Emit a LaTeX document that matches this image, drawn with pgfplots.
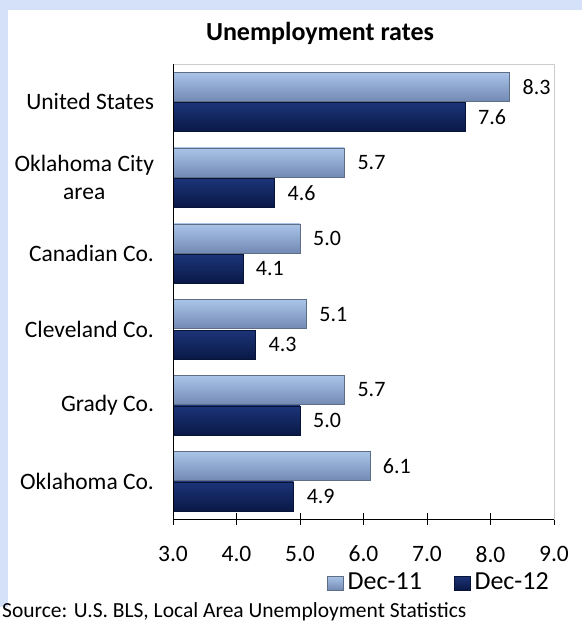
\documentclass[border=0pt]{standalone}
\usepackage{fontspec}
\setmainfont{Carlito}
\usepackage{pgfplots}
\pgfplotsset{compat=1.18}
\definecolor{bgblue}{RGB}{213,225,249}
\definecolor{lightTop}{RGB}{170,196,232}
\definecolor{lightMid}{RGB}{222,240,253}
\definecolor{lightBot}{RGB}{115,138,180}
\definecolor{lightEdge}{RGB}{95,110,135}
\definecolor{darkTop}{RGB}{28,52,120}
\definecolor{darkMid}{RGB}{38,70,152}
\definecolor{darkBot}{RGB}{9,24,70}
\definecolor{darkEdge}{RGB}{8,20,55}
\definecolor{framegray}{RGB}{205,205,205}
\pgfplotsset{
  lightbar/.style={draw=lightEdge, line width=0.6pt, top color=lightTop, middle color=lightMid, bottom color=lightBot},
  darkbar/.style={draw=darkEdge, line width=0.6pt, top color=darkTop, middle color=darkMid, bottom color=darkBot},
}
\begin{document}
\fontsize{23.5}{28}\selectfont
\begin{tikzpicture}[x=1pt,y=1pt]
\fill[white] (0,0) rectangle (582,629);
\fill[bgblue] (0,22) rectangle (582,629);
\fill[white] (8,22) rectangle (582,619);
\node[anchor=base, font=\fontsize{26}{30}\selectfont\bfseries, inner sep=0] at (320,588) {Unemployment rates};
\node[anchor=base west, inner sep=0] at (2,11) {\fontsize{21.5}{25}\selectfont Source: U.S. BLS, Local Area Unemployment Statistics};
\begin{axis}[
  at={(173pt,110pt)}, anchor=south west,
  scale only axis, width=381pt, height=455pt,
  xbar, bar width=29pt,
  xmin=3, xmax=9, xtick={3,4,5,6,7,8,9},
  ymin=-0.5, ymax=5.5,
  ytick={0,1,2,3,4,5},
  yticklabels={Oklahoma Co.,Grady Co.,Cleveland Co.,Canadian Co.,{Oklahoma City\\area},United States},
  yticklabel style={align=center, xshift=1pt},
  ytick style={draw=none},
  xtick pos=bottom,
  xtick align=center, major tick length=12pt,
  xtick style={black, line width=0.8pt},
  xticklabel style={yshift=-13pt},
  axis line style={framegray, line width=0.8pt},
  /pgf/number format/.cd, fixed, fixed zerofill, precision=1, assume math mode=true,
  /pgfplots/.cd,
  nodes near coords,
  nodes near coords align={horizontal},
  every node near coord/.append style={black, xshift=5pt, font=\fontsize{22}{26}\selectfont},
  legend columns=2,
  legend style={draw=none, fill=none, at={(axis description cs:1,0)}, anchor=east, yshift=-64pt, xshift=2pt,
    font=\fontsize{26}{30}\selectfont,
    nodes={inner xsep=4pt},
    /tikz/every even column/.append style={column sep=28pt}},
  legend image code/.code={\draw[#1] (0pt,-7pt) rectangle (16pt,7pt);},
]
% Dec-11
\addplot[lightbar, bar shift=15.25pt, forget plot] coordinates {(8.3,5)};
\addplot[lightbar, bar shift=15.25pt, forget plot] coordinates {(5.7,4)};
\addplot[lightbar, bar shift=15.25pt, forget plot] coordinates {(5.0,3)};
\addplot[lightbar, bar shift=15.25pt, forget plot] coordinates {(5.1,2)};
\addplot[lightbar, bar shift=15.25pt, forget plot] coordinates {(5.7,1)};
\addplot[lightbar, bar shift=15.25pt, forget plot] coordinates {(6.1,0)};
% Dec-12
\addplot[darkbar, bar shift=-15.25pt, forget plot] coordinates {(7.6,5)};
\addplot[darkbar, bar shift=-15.25pt, forget plot] coordinates {(4.6,4)};
\addplot[darkbar, bar shift=-15.25pt, forget plot] coordinates {(4.1,3)};
\addplot[darkbar, bar shift=-15.25pt, forget plot] coordinates {(4.3,2)};
\addplot[darkbar, bar shift=-15.25pt, forget plot] coordinates {(5.0,1)};
\addplot[darkbar, bar shift=-15.25pt, forget plot] coordinates {(4.9,0)};
\addlegendimage{lightbar}
\addlegendentry{Dec-11}
\addlegendimage{darkbar}
\addlegendentry{Dec-12}
\draw[black, line width=1pt] (axis description cs:0,0) -- (axis description cs:0,1);
\draw[black, line width=1pt] (axis description cs:0,0) -- (axis description cs:1,0);
\end{axis}
\end{tikzpicture}
\end{document}
